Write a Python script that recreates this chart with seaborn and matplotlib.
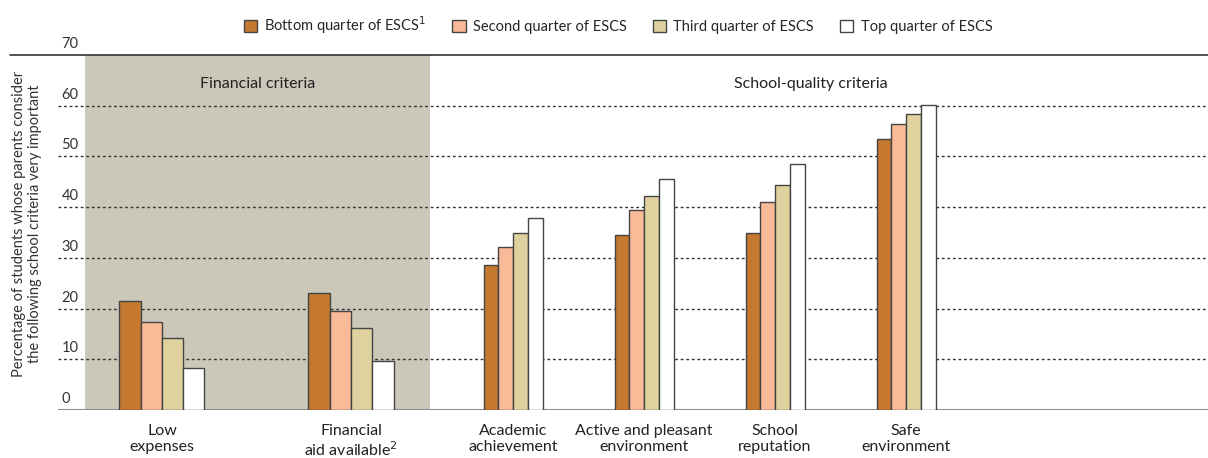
import matplotlib
matplotlib.use("Agg")
import matplotlib.pyplot as plt
from matplotlib.patches import Patch, Rectangle
import pandas as pd
import seaborn as sns

# data
groups = ["Bottom quarter of ESCS$^{1}$", "Second quarter of ESCS",
          "Third quarter of ESCS", "Top quarter of ESCS"]
colors = ["#C47830", "#F9BA98", "#E0D29E", "#FFFFFF"]

fin_criteria = ["Low\nexpenses", "Financial\naid available$^{2}$"]
fin_values = [
    [21.5, 17.4, 14.2, 8.3],
    [23.1, 19.5, 16.2, 9.7],
]

school_criteria = ["Academic\nachievement", "Active and pleasant\nenvironment",
                   "School\nreputation", "Safe\nenvironment"]
school_values = [
    [28.5, 32.2, 34.9, 37.9],
    [34.5, 39.4, 42.1, 45.6],
    [35.0, 41.0, 44.3, 48.5],
    [53.5, 56.4, 58.4, 60.2],
]

yticks = [0, 10, 20, 30, 40, 50, 60, 70]
panel_titles = ["Financial criteria", "School-quality criteria"]
ylabel = ("Percentage of students whose parents consider\n"
          "the following school criteria very important")


def to_long(criteria, values):
    rows = []
    for crit, vals in zip(criteria, values):
        for g, v in zip(groups, vals):
            rows.append({"criterion": crit, "group": g, "value": v})
    return pd.DataFrame(rows)


sns.set_theme(style="white")
plt.rcParams["font.family"] = ["Lato", "DejaVu Sans"]

W, H = 1208, 458
fig = plt.figure(figsize=(W / 100, H / 100), dpi=100)

y0_px, y70_px = 410, 55
bottom = (H - y0_px) / H
height = (y0_px - y70_px) / H

# background axes: grid lines, tick labels, shading
bg = fig.add_axes([58 / W, bottom, (W - 58) / W, height], zorder=0)
bg.set_xlim(0, 1)
bg.set_ylim(0, 70)
bg.axis("off")

ax_fin = fig.add_axes([85 / W, bottom, (430 - 85) / W, height], zorder=2)
ax_sch = fig.add_axes([430 / W, bottom, (W - 430) / W, height], zorder=2)

bg.add_patch(Rectangle((0, 0), 1, 1, transform=ax_fin.transAxes,
                       facecolor="#CBC7B9", edgecolor="none", zorder=0))

for t in yticks[1:-1]:
    bg.axhline(t, color="#333333", lw=1.0, ls=(0, (2, 2)), zorder=1)
bg.axhline(70, xmin=-48 / 1150, xmax=1, color="#333333", lw=1.2,
           clip_on=False, zorder=1)
for t in yticks:
    bg.text(0.003, t + 0.8, str(t), ha="left", va="bottom",
            fontsize=10.5, color="#333333")

# baseline
bg.axhline(0, color="#8C8C8C", lw=2.2, zorder=3)

for ax, crit, vals, xl in [
    (ax_fin, fin_criteria, fin_values, (-0.407, 1.418)),
    (ax_sch, school_criteria, school_values, (-0.634, 5.305)),
]:
    df = to_long(crit, vals)
    sns.barplot(data=df, x="criterion", y="value", hue="group",
                order=crit, hue_order=groups, palette=colors,
                width=0.45, edgecolor="#444444", linewidth=1.0,
                saturation=1, legend=False, ax=ax)
    ax.set_facecolor("none")
    ax.set_xlim(*xl)
    ax.set_ylim(0, 70)
    ax.set_xlabel("")
    ax.set_ylabel("")
    ax.set_yticks([])
    for s in ax.spines.values():
        s.set_visible(False)
    ax.tick_params(axis="x", length=0, pad=10, labelsize=11.5,
                   colors="#222222")
    for lbl in ax.get_xticklabels():
        lbl.set_linespacing(1.15)

ax_fin.text(0.5, 0.918, panel_titles[0], transform=ax_fin.transAxes,
            ha="center", va="center", fontsize=11.5, color="#222222")
ax_sch.text((811 - 430) / (W - 430), 0.918, panel_titles[1],
            transform=ax_sch.transAxes, ha="center", va="center",
            fontsize=11.5, color="#222222")

fig.text(27 / W, 1 - 224 / H, ylabel, rotation=90, ha="center",
         va="center", fontsize=10.5, linespacing=1.25, color="#333333")

handles = [Patch(facecolor=c, edgecolor="#444444", lw=1.0) for c in colors]
fig.legend(handles, groups, loc="center", bbox_to_anchor=(618 / W, 1 - 25 / H),
           ncol=4, frameon=False, fontsize=10.5, handlelength=0.9,
           handleheight=0.9, handletextpad=0.5, columnspacing=1.8)

fig.savefig("out.png", dpi=100)
